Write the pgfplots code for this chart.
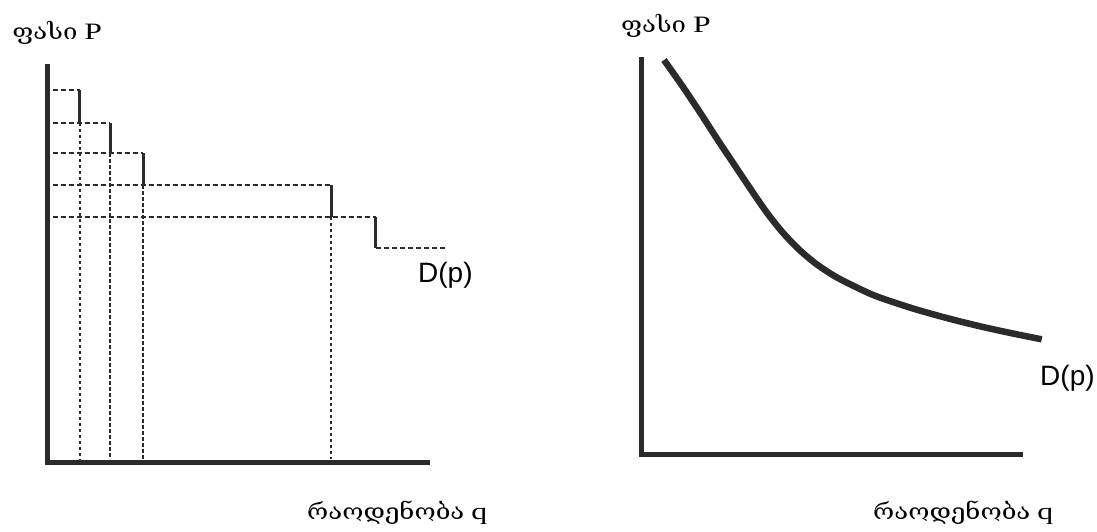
\documentclass[border=0pt]{standalone}
\usepackage{fontspec}
\usepackage{graphicx}
\setmainfont{Liberation Serif}
\newfontfamily\geo{DejaVu Serif}
\newfontfamily\lab{Liberation Sans}
\usepackage{pgfplots}
\pgfplotsset{compat=1.18}

\definecolor{ink}{HTML}{2B2B2B}

% Georgian word followed by a Latin symbol, both set a little wide
\newcommand{\geotext}[2]{%
  \scalebox{1.17}[1]{\geo\fontsize{22}{26}\selectfont #1}%
  \hspace{7pt}%
  \scalebox{1.35}[1]{\fontsize{23.5}{28}\selectfont #2}}

\pgfplotsset{
  panel/.style={
    scale only axis,
    anchor=south west,
    axis lines=left,
    axis line style={-, line width=5pt, ink, line cap=rect},
    xtick=\empty, ytick=\empty,
    xmin=0, ymin=0,
    clip=false,
  },
  hdash/.style={ink, line width=1.8pt, dash pattern=on 5pt off 3pt},
  vdot/.style={ink, line width=1.7pt, dash pattern=on 3.5pt off 2.5pt},
  step/.style={ink, line width=3pt},
}

\begin{document}
\begin{tikzpicture}
\path[use as bounding box] (0,0) rectangle (1097pt,531pt);

% Step-shaped demand of individual buyers
\begin{axis}[panel, at={(47.7pt,68.7pt)}, width=380pt, height=395.6pt,
             xmax=380, ymax=395.6]
  % price levels, drawn from the price axis to each step
  \addplot[hdash] coordinates {(5,372.3) (32.3,372.3)};
  \addplot[hdash] coordinates {(5,339.6) (62.3,339.6)};
  \addplot[hdash] coordinates {(5,309.0) (95.6,309.0)};
  \addplot[hdash] coordinates {(5,277.3) (283.3,277.3)};
  \addplot[hdash] coordinates {(5,245.6) (328.0,245.6)};
  \addplot[hdash] coordinates {(328.0,214.3) (399,214.3)};
  % vertical drops of the demand curve
  \addplot[step] coordinates {(32.3,372.3) (32.3,339.6)};
  \addplot[step] coordinates {(62.3,339.6) (62.3,309.0)};
  \addplot[step] coordinates {(95.6,309.0) (95.6,277.3)};
  \addplot[step] coordinates {(283.3,277.3) (283.3,245.6)};
  \addplot[step] coordinates {(328.0,245.6) (328.0,214.3)};
  % quantities read off on the quantity axis
  \addplot[vdot] coordinates {(32.3,339.6) (32.3,3)};
  \addplot[vdot] coordinates {(62.3,309.0) (62.3,3)};
  \addplot[vdot] coordinates {(95.6,277.3) (95.6,3)};
  \addplot[vdot] coordinates {(283.3,245.6) (283.3,3)};

  \node[anchor=base west, inner sep=0] at (axis cs:-35.4,422.3)
    {\geotext{ფასი}{P}};
  \node[anchor=base west, inner sep=0] at (axis cs:259.3,-56.7)
    {\geotext{რაოდენობა}{q}};
  \node[anchor=base west, inner sep=0, font=\lab\fontsize{28}{32}\selectfont]
    at (axis cs:370.3,180.3) {D(p)};
\end{axis}

% Smooth market demand curve
\begin{axis}[panel, at={(641pt,77pt)}, width=379pt, height=394pt,
             xmax=379, ymax=394]
  \addplot[ink, line width=6.5pt, smooth] coordinates {
    (23,394) (42.3,366.6) (59,341.6) (75.7,315.7) (92.3,290.8)
    (109,265.8) (125.7,241.6) (142.3,220.8) (159,203.6) (175.7,189.7)
    (195.7,176.7) (222.3,163.4) (239,156.4) (272.3,145.4) (305.7,136)
    (339,127.7) (372.3,120.4) (400.7,114.7)
  };

  \node[anchor=base west, inner sep=0] at (axis cs:-20,421)
    {\geotext{ფასი}{P}};
  \node[anchor=base west, inner sep=0] at (axis cs:232,-65)
    {\geotext{რაოდენობა}{q}};
  \node[anchor=base west, inner sep=0, font=\lab\fontsize{28}{32}\selectfont]
    at (axis cs:399,69) {D(p)};
\end{axis}
\end{tikzpicture}
\end{document}
